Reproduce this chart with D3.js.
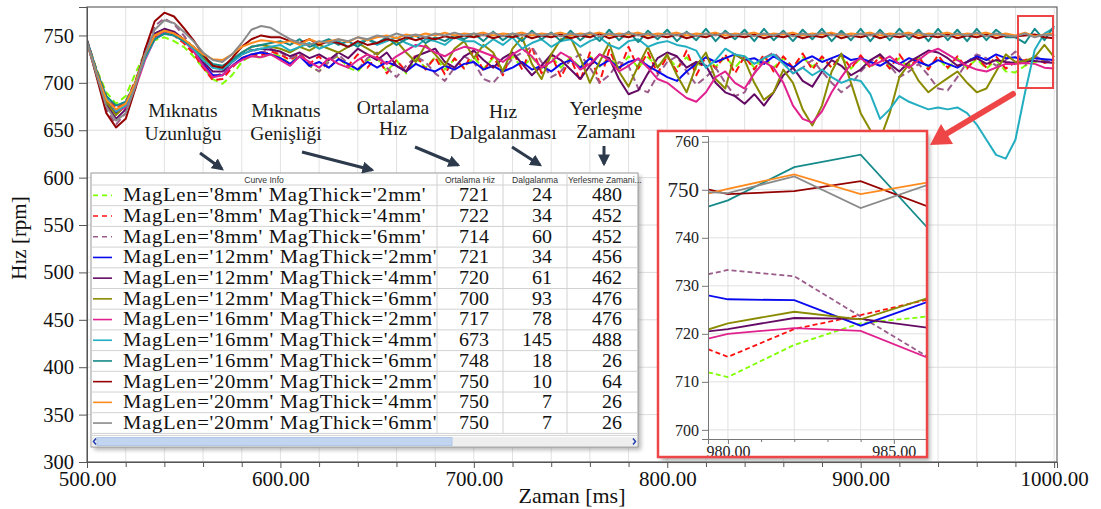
<!DOCTYPE html>
<html><head><meta charset="utf-8">
<script src="https://cdn.jsdelivr.net/npm/d3@7"></script>
<style>
body{margin:0;background:#fff;}
svg{display:block;font-family:'Liberation Serif','Times New Roman',serif;}
</style>
</head><body>
<svg id="c" width="1101" height="509"></svg>
<script>
// ---------------- DATA ----------------
const times = d3.range(500, 1001, 5); // sampling grid, ms
const curveNames = [
 "MagLen='8mm' MagThick='2mm'","MagLen='8mm' MagThick='4mm'","MagLen='8mm' MagThick='6mm'",
 "MagLen='12mm' MagThick='2mm'","MagLen='12mm' MagThick='4mm'","MagLen='12mm' MagThick='6mm'",
 "MagLen='16mm' MagThick='2mm'","MagLen='16mm' MagThick='4mm'","MagLen='16mm' MagThick='6mm'",
 "MagLen='20mm' MagThick='2mm'","MagLen='20mm' MagThick='4mm'","MagLen='20mm' MagThick='6mm'"];
const avgSpeed = [721,722,714,721,720,700,717,673,748,750,750,750];
const speedRipple = [24,34,60,34,61,93,78,145,18,10,7,7];
const settleTime = [480,452,452,456,462,476,476,488,26,64,26,26];
const tableHeaders = ["Curve Info","Ortalama Hiz","Dalgalanma","Yerlesme Zamani..."];
const yTickValues = [300,350,400,450,500,550,600,650,700,750];
const xTickValues = [500,600,700,800,900,1000];

const s8_2 = [745,714,690,678,686,710,732,745,748,744, 738,728,716,704,699,708,722,729,726,731,
 728,720,730,718,712,724,728,716,712,724, 726,712,724,710,726,716,727,714,725,716,
 727,715,726,714,728,716,727,715,728,716, 727,716,728,717,727,715,728,716,727,717,
 728,716,727,715,728,717,727,716,728,716, 727,716,726,715,727,717,726,716,727,715,
 726,716,727,717,726,715,727,716,726,715, 726,716,725,715,724,712,711,718,722,724,721];
const s8_4 = [745,713,686,673,680,702,730,748,754,750, 742,731,716,703,704,716,726,730,729,733,
 730,724,731,720,728,715,726,718,730,716, 728,710,724,712,730,714,727,709,726,715,
 735,712,729,708,733,714,738,710,730,706, 726,702,732,700,735,712,738,715,732,710,
 728,712,734,708,728,715,730,710,728,714, 730,712,728,716,731,714,728,716,730,715,
 729,716,728,715,730,716,727,714,729,716, 728,715,727,716,728,715,722,724,727,721,724];
const s8_6 = [743,708,672,656,668,700,735,760,768,762, 750,736,718,706,710,722,730,735,732,736,
 732,726,730,718,712,722,730,720,714,726, 732,716,706,718,728,722,710,702,716,728,
 722,704,700,712,726,732,738,722,706,712, 724,730,716,700,708,722,718,694,690,708,
 722,728,712,698,706,716,700,686,690,710, 726,732,722,710,716,724,712,700,690,698,
 712,722,730,718,706,712,720,708,694,692, 706,722,730,726,718,724,733,719,728,724,720];
const s12_2 = [745,712,682,668,676,700,732,752,756,752, 745,734,720,708,708,718,726,730,732,730,
 726,720,728,718,722,716,725,720,714,722, 716,722,718,712,720,715,712,718,714,720,
 722,714,718,712,716,722,714,718,712,720, 724,716,726,718,724,716,722,725,718,712,
 706,702,712,720,727,722,726,730,724,726, 720,728,722,716,724,728,722,726,730,724,
 726,722,718,724,720,726,722,718,724,720, 716,722,728,724,730,726,727,722,726,725,724];
const s12_4 = [743,710,678,662,672,698,730,752,757,754, 746,736,722,712,712,722,730,734,736,735,
 733,728,732,726,730,724,732,726,736,730, 724,732,718,712,728,732,736,722,716,728,
 734,724,716,726,732,720,708,718,730,724, 714,704,718,730,726,704,688,692,710,726,
 732,728,716,722,718,700,690,686,678,688, 676,690,708,716,702,696,712,724,718,708,
 714,724,730,720,712,722,728,734,732,726, 718,722,726,720,724,722,721,723,723,722,721];
const s12_6 = [744,712,680,666,676,700,730,750,755,752, 746,738,726,718,716,724,732,738,740,738,
 736,732,738,734,740,736,732,738,742,736, 730,738,744,732,722,740,730,718,736,744,
 726,740,732,712,736,748,720,704,730,746, 748,726,700,722,742,712,696,718,738,716,
 730,708,690,718,732,704,694,730,724,700, 682,690,714,700,672,655,676,712,731,700,
 668,650,640,668,706,720,702,690,698,705, 712,700,690,694,712,730,722,723,727,740,727];
const s16_2 = [744,712,684,670,674,694,724,746,754,752, 744,734,718,706,708,718,724,728,727,730,
 724,718,728,722,716,726,720,716,724,730, 726,720,728,734,740,738,732,728,734,738,
 736,732,728,722,730,736,728,716,722,732, 726,714,720,730,724,712,718,726,716,704,
 700,692,684,680,690,706,712,700,694,710, 722,716,700,676,662,658,670,690,706,720,
 726,718,722,728,720,716,724,732,736,730, 724,718,714,712,716,720,720,721,720,716,715];
const s16_4 = [744,712,684,670,676,698,726,746,752,750, 744,736,724,716,714,722,730,734,736,738,
 740,734,738,742,736,740,744,738,742,746, 740,744,748,742,738,746,744,740,748,744,
 744,738,746,740,748,736,742,746,738,744, 746,738,744,748,740,736,744,746,738,742,
 744,740,738,734,716,724,736,730,728,720, 726,730,720,710,716,708,714,706,700,704,
 702,688,662,672,686,680,676,672,674,672, 674,668,656,640,624,620,640,690,735,752,758];
const s16_6 = [744,712,686,676,680,700,728,746,752,750, 744,738,728,720,718,724,732,738,740,742,
 744,740,746,738,742,746,740,744,738,746, 742,748,740,746,750,742,748,744,750,746,
 752,744,754,745,752,744,755,746,753,744, 755,745,753,744,756,745,754,743,755,746,
 756,744,754,745,757,744,755,746,756,744, 757,745,755,744,756,746,757,744,755,745,
 757,744,756,745,757,746,756,744,757,745, 756,744,757,745,756,748,748,742,757,745,760];
const s20_2 = [743,706,668,653,662,694,735,765,774,770, 758,745,730,718,716,726,738,746,750,748,
 748,744,742,746,740,744,742,738,744,740, 742,746,744,748,745,748,746,749,747,750,
 748,751,747,750,748,751,747,750,748,751, 747,750,748,752,747,750,748,751,747,750,
 748,751,747,750,748,752,747,750,748,751, 747,750,748,751,747,750,748,752,747,750,
 748,751,747,750,748,751,747,750,748,751, 747,750,748,751,747,750,749,750,751,748,747];
const s20_4 = [742,710,682,672,678,700,730,750,755,752, 746,738,730,725,724,730,738,742,745,744,
 742,744,740,746,742,744,746,743,748,745, 748,750,747,751,749,752,750,753,750,752,
 751,753,750,752,751,753,750,752,751,753, 750,752,751,753,750,752,751,753,750,752,
 751,753,750,752,751,753,750,752,751,753, 750,752,751,753,750,752,751,753,750,752,
 751,753,750,752,751,753,750,752,751,753, 750,752,751,753,750,752,750,753,749,751,752];
const s20_6 = [743,708,675,660,668,696,730,756,766,763, 754,744,732,724,722,730,742,756,760,758,
 752,746,742,740,744,742,746,744,748,746, 750,748,752,749,751,748,752,750,753,750,
 752,750,753,749,752,750,753,750,752,749, 752,750,753,749,752,750,753,750,752,749,
 752,750,753,749,752,750,753,750,752,749, 752,750,753,749,752,750,753,750,752,749,
 752,750,753,749,752,750,753,750,752,749, 752,750,753,749,752,750,749,752,748,751,750];

// zoomed detail (inset)
const insetTimes = [979.4, 980, 982, 984, 986];
const in8_2 = [712.0,711.0,717.7,722.2,723.6];
const in8_4 = [716.8,715.2,721.0,723.9,727.1];
const in8_6 = [732.4,733.3,732.0,723.6,715.3];
const in12_2 = [728.0,727.2,727.0,721.7,726.6];
const in12_4 = [720.5,721.0,723.3,723.1,721.3];
const in12_6 = [720.9,722.2,724.6,723.0,727.4];
const in16_2 = [719.0,720.0,721.2,720.6,715.1];
const in16_6 = [746.5,747.8,754.7,757.3,742.2];
const in20_2 = [750.1,749.1,749.7,751.8,746.6];
const in20_4 = [749.2,750.2,753.2,749.1,751.5];
const in20_6 = [749.5,749.3,752.8,746.2,751.0];
const insetYTicks = [700,710,720,730,740,750,760];
const insetXTicks = [980,985];

const annotations = [
 {lines:["Mıknatıs","Uzunluğu"]},{lines:["Mıknatıs","Genişliği"]},{lines:["Ortalama","Hız"]},
 {lines:["Hız","Dalgalanması"]},{lines:["Yerleşme","Zamanı"]}];

// ---------------- STYLE ----------------
const colors = ["#80ff00","#ff1010","#9a5c8a","#0a0aee","#640a64","#8a8a00","#e0228e","#22aec0","#148a8a","#950000","#ff8a1e","#8a8a8a"];
const dashed = [true,true,true,false,false,false,false,false,false,false,false,false];
const mainSeries = [s8_2,s8_4,s8_6,s12_2,s12_4,s12_6,s16_2,s16_4,s16_6,s20_2,s20_4,s20_6];
const insetSeries = [in8_2,in8_4,in8_6,in12_2,in12_4,in12_6,in16_2,null,in16_6,in20_2,in20_4,in20_6];

const svg = d3.select('#c');
const defs = svg.append('defs');
const P = {l:87, r:1057, t:7, b:462};
const x = d3.scaleLinear().domain([500,1001.5]).range([P.l,P.r]);
const y = d3.scaleLinear().domain([300,780]).range([P.b,P.t]);

defs.append('clipPath').attr('id','clipMain').append('rect')
  .attr('x',P.l).attr('y',P.t).attr('width',P.r-P.l).attr('height',P.b-P.t);
const blur = defs.append('filter').attr('id','shadow').attr('x','-10%').attr('y','-10%').attr('width','130%').attr('height','130%');
blur.append('feGaussianBlur').attr('stdDeviation',2);

// grid
const grid = svg.append('g');
grid.selectAll('line.v').data(d3.range(520,1001,20)).join('line')
  .attr('x1',d=>x(d)).attr('x2',d=>x(d)).attr('y1',P.t).attr('y2',P.b)
  .attr('stroke','#e2e2e2').attr('stroke-width',1);
grid.selectAll('line.h').data(yTickValues).join('line')
  .attr('x1',P.l).attr('x2',P.r).attr('y1',d=>y(d)).attr('y2',d=>y(d))
  .attr('stroke','#dcdcdc').attr('stroke-width',1);

// lines
const line = d3.line().x((d,i)=>x(times[i])).y(d=>y(d));
const gl = svg.append('g').attr('clip-path','url(#clipMain)');
mainSeries.forEach((s,k)=>{
  gl.append('path').attr('d',line(s)).attr('fill','none')
    .attr('stroke',colors[k]).attr('stroke-width',2)
    .attr('stroke-linejoin','round')
    .attr('stroke-dasharray',dashed[k]?'7,4':null);
});

// frame
svg.append('rect').attr('x',P.l).attr('y',P.t).attr('width',P.r-P.l).attr('height',P.b-P.t)
  .attr('fill','none').attr('stroke','#666').attr('stroke-width',1.2);

// axes
const ya = svg.append('g').attr('transform',`translate(${P.l},0)`)
  .call(d3.axisLeft(y).tickValues(yTickValues).tickSize(8).tickPadding(5).tickFormat(d3.format('d')));
ya.select('.domain').attr('stroke','#555');
ya.selectAll('line').attr('stroke','#555');
ya.selectAll('text').attr('font-size',20.5).attr('font-family','Liberation Serif').attr('fill','#111');

const xa = svg.append('g').attr('transform',`translate(0,${P.b})`)
  .call(d3.axisBottom(x).tickValues(xTickValues).tickSize(6).tickPadding(3).tickFormat(d=>d.toFixed(2)));
xa.select('.domain').attr('stroke','#555');
xa.selectAll('line').attr('stroke','#555');
xa.selectAll('text').attr('font-size',21).attr('font-family','Liberation Serif').attr('fill','#111');
svg.append('g').attr('transform',`translate(0,${P.b})`)
  .call(d3.axisBottom(x).tickValues(d3.range(520,1000,20).filter(d=>d%100)).tickSize(5).tickFormat(''))
  .call(g=>{g.select('.domain').remove(); g.selectAll('line').attr('stroke','#555');});

svg.append('text').attr('x',572).attr('y',503).attr('text-anchor','middle')
  .attr('font-size',22).attr('fill','#111').text('Zaman [ms]');
svg.append('text').attr('transform','translate(26,238) rotate(-90)').attr('text-anchor','middle')
  .attr('font-size',21).attr('fill','#111').text('Hız [rpm]');

// ---------------- TABLE LEGEND ----------------
const T = {x:91, y:173, w:547, h:274, head:12, row:20.7};
const colX = [437,503,567];
const gt = svg.append('g');
gt.append('rect').attr('x',T.x+3).attr('y',T.y+3).attr('width',T.w).attr('height',T.h)
  .attr('fill','#888').attr('opacity',0.6).attr('filter','url(#shadow)');
gt.append('rect').attr('x',T.x).attr('y',T.y).attr('width',T.w).attr('height',T.h)
  .attr('fill','#fff').attr('stroke','#9a9a9a');
const rowTop = i => T.y+T.head+i*T.row;
const bodyBottom = rowTop(12);
gt.selectAll('line.r').data(d3.range(13)).join('line')
  .attr('x1',T.x).attr('x2',T.x+T.w).attr('y1',d=>rowTop(d)).attr('y2',d=>rowTop(d))
  .attr('stroke','#d2d2d2');
gt.append('line').attr('x1',T.x).attr('x2',T.x+T.w).attr('y1',bodyBottom+2).attr('y2',bodyBottom+2).attr('stroke','#d2d2d2');
gt.selectAll('line.c').data(colX).join('line')
  .attr('x1',d=>d).attr('x2',d=>d).attr('y1',T.y).attr('y2',bodyBottom)
  .attr('stroke','#d2d2d2');
const headCx = [(T.x+colX[0])/2,(colX[0]+colX[1])/2,(colX[1]+colX[2])/2];
tableHeaders.forEach((h,i)=>{
  gt.append('text').attr('x',i<3?headCx[i]:colX[2]+1).attr('y',T.y+9.5)
    .attr('text-anchor',i<3?'middle':'start').attr('font-family','Liberation Sans, Arial, sans-serif')
    .attr('font-size',8.6).attr('fill','#333').text(h);
});
curveNames.forEach((n,i)=>{
  const cy = rowTop(i)+T.row/2;
  const by = rowTop(i)+16.2;
  gt.append('line').attr('x1',93).attr('x2',112).attr('y1',cy).attr('y2',cy)
    .attr('stroke',colors[i]).attr('stroke-width',1.6).attr('stroke-dasharray',dashed[i]?'5,4':null);
  gt.append('text').attr('transform',`translate(123,${by}) scale(1.12,1)`)
    .attr('font-size',18.5).attr('letter-spacing',0.6).attr('fill','#111').text(n);
  [[489,avgSpeed[i]],[552,speedRipple[i]],[622,settleTime[i]]].forEach(([cx,v])=>{
    gt.append('text').attr('transform',`translate(${cx},${by}) scale(1.08,1)`).attr('text-anchor','end')
      .attr('font-size',18.5).attr('fill','#111').text(v);
  });
});
// scrollbar
gt.append('rect').attr('x',T.x+1).attr('y',437).attr('width',T.w-2).attr('height',9).attr('fill','#eeeeee');
gt.append('rect').attr('x',97).attr('y',437.5).attr('width',355).attr('height',8).attr('fill','#c2d5f0').attr('stroke','#b0c6e8');
gt.append('path').attr('d','M96,438.5 L93.5,441.5 L96,444.5').attr('fill','none').attr('stroke','#1f3fb0').attr('stroke-width',1.5);
gt.append('path').attr('d','M633,438.5 L635.5,441.5 L633,444.5').attr('fill','none').attr('stroke','#1f3fb0').attr('stroke-width',1.5);

// ---------------- ANNOTATIONS ----------------
const annPos = [[183,117,140],[286,117,140],[393,114,135],[503,118,139],[606,115,138]];
annotations.forEach((a,i)=>{
  a.lines.forEach((t,j)=>{
    svg.append('text').attr('x',annPos[i][0]).attr('y',annPos[i][1+j]).attr('text-anchor','middle')
      .attr('font-size',19.5).attr('fill','#1a1a1a').text(t);
  });
});
defs.append('marker').attr('id','ah').attr('viewBox','0 0 10 10').attr('refX',8).attr('refY',5)
  .attr('markerWidth',4).attr('markerHeight',4).attr('orient','auto')
  .append('path').attr('d','M0,0 L10,5 L0,10 z').attr('fill','#2c3a4c');
const arrows = [[200,153,222,169],[302,152,372,170],[415,147,458,165],[512,147,540,165],[604,146,604,164]];
arrows.forEach(a=>{
  svg.append('line').attr('x1',a[0]).attr('y1',a[1]).attr('x2',a[2]).attr('y2',a[3])
    .attr('stroke','#2c3a4c').attr('stroke-width',3).attr('marker-end','url(#ah)');
});

// small highlight box in main plot
svg.append('rect').attr('x',1018).attr('y',16).attr('width',35).attr('height',72)
  .attr('fill','none').attr('stroke','#ee4646').attr('stroke-width',2);

// ---------------- INSET ----------------
const IB = {x:658,y:131,w:269,h:326};
const IP = {l:708,r:927,t:136,b:439};
const ix = d3.scaleLinear().domain([979.4,986]).range([IP.l,IP.r]);
const iy = d3.scaleLinear().domain([698.1,761.2]).range([IP.b,IP.t]);
const gi = svg.append('g');
gi.append('rect').attr('x',IB.x+3).attr('y',IB.y+4).attr('width',IB.w).attr('height',IB.h)
  .attr('fill','#777').attr('opacity',0.55).attr('filter','url(#shadow)');
gi.append('rect').attr('x',IB.x).attr('y',IB.y).attr('width',IB.w).attr('height',IB.h).attr('fill','#fff');
defs.append('clipPath').attr('id','clipInset').append('rect')
  .attr('x',IP.l).attr('y',IP.t).attr('width',IP.r-IP.l).attr('height',IP.b-IP.t);
gi.selectAll('line.ih').data(insetYTicks).join('line')
  .attr('x1',IP.l).attr('x2',IP.r).attr('y1',d=>iy(d)).attr('y2',d=>iy(d)).attr('stroke','#e0e0e0');
gi.selectAll('line.iv').data([980,982,984,985]).join('line')
  .attr('x1',d=>ix(d)).attr('x2',d=>ix(d)).attr('y1',IP.t).attr('y2',IP.b).attr('stroke','#e0e0e0');
const iline = d3.line().x((d,i)=>ix(insetTimes[i])).y(d=>iy(d));
const gil = gi.append('g').attr('clip-path','url(#clipInset)');
insetSeries.forEach((s,k)=>{
  if(!s) return;
  gil.append('path').attr('d',iline(s)).attr('fill','none').attr('stroke',colors[k])
    .attr('stroke-width',1.8).attr('stroke-dasharray',dashed[k]?'5,3':null);
});
const iya = gi.append('g').attr('transform',`translate(${IP.l},0)`)
  .call(d3.axisLeft(iy).tickValues(insetYTicks).tickSize(6).tickPadding(3).tickFormat(d3.format('d')));
iya.select('.domain').attr('stroke','#777');
iya.selectAll('line').attr('stroke','#777');
iya.selectAll('text').attr('font-family','Liberation Serif').attr('fill','#222')
  .attr('font-size',d=>d===750?21:16);
const ixa = gi.append('g').attr('transform',`translate(0,${IP.b})`)
  .call(d3.axisBottom(ix).tickValues(insetXTicks).tickSize(5).tickPadding(2).tickFormat(d=>d.toFixed(2)));
ixa.select('.domain').attr('stroke','#777');
ixa.selectAll('line').attr('stroke','#777');
ixa.selectAll('text').attr('font-family','Liberation Serif').attr('font-size',16).attr('fill','#222');
gi.append('g').attr('transform',`translate(0,${IP.b})`)
  .call(d3.axisBottom(ix).tickValues([981,982,983,984]).tickSize(3).tickFormat(''))
  .call(g=>{g.select('.domain').remove(); g.selectAll('line').attr('stroke','#777');});
gi.append('rect').attr('x',IB.x).attr('y',IB.y).attr('width',IB.w).attr('height',IB.h)
  .attr('fill','none').attr('stroke','#ee4646').attr('stroke-width',2.5);

// red pointer arrow
svg.append('line').attr('x1',1013).attr('y1',94).attr('x2',946).attr('y2',134)
  .attr('stroke','#ee4646').attr('stroke-width',6).attr('stroke-linecap','round');
svg.append('path').attr('d','M930,145 L953,144 L941,124 Z').attr('fill','#ee4646');
</script>
</body></html>
